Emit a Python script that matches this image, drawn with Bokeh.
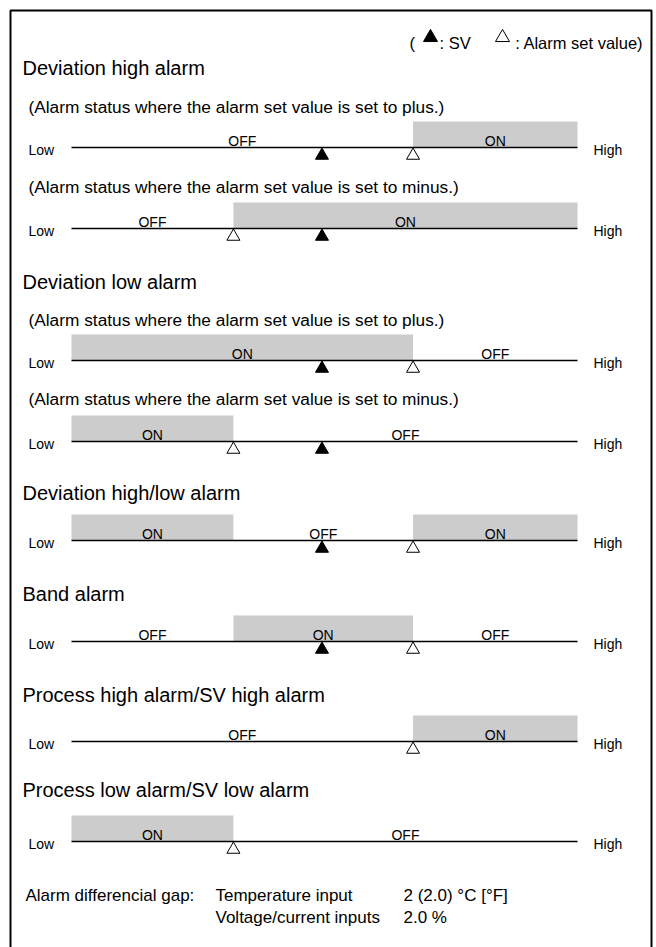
from bokeh.plotting import figure
from bokeh.models import Range1d
from bokeh.core.properties import value
from bokeh.embed import file_html
from bokeh.resources import INLINE

# ---------------- data ----------------
LOW, HIGH = 0.0, 100.0          # ends of the measuring scale
SV = 49.5                       # set value (black triangle)
A_PLUS = 67.5                   # alarm set value, plus side
A_MINUS = 32.0                  # alarm set value, minus side

section_titles = ["Deviation high alarm", "Deviation low alarm",
                  "Deviation high/low alarm", "Band alarm",
                  "Process high alarm/SV high alarm",
                  "Process low alarm/SV low alarm"]
sub_plus = "(Alarm status where the alarm set value is set to plus.)"
sub_minus = "(Alarm status where the alarm set value is set to minus.)"
subtitles = [sub_plus, sub_minus, sub_plus, sub_minus]

bar_edges = [[LOW, A_PLUS, HIGH], [LOW, A_MINUS, HIGH],
             [LOW, A_PLUS, HIGH], [LOW, A_MINUS, HIGH],
             [LOW, A_MINUS, A_PLUS, HIGH], [LOW, A_MINUS, A_PLUS, HIGH],
             [LOW, A_PLUS, HIGH], [LOW, A_MINUS, HIGH]]
bar_states = [["OFF", "ON"], ["OFF", "ON"], ["ON", "OFF"], ["ON", "OFF"],
              ["ON", "OFF", "ON"], ["OFF", "ON", "OFF"],
              ["OFF", "ON"], ["ON", "OFF"]]
sv_shown = [True, True, True, True, True, True, False, False]
alarm_marks = [A_PLUS, A_MINUS, A_PLUS, A_MINUS, A_PLUS, A_PLUS, A_PLUS, A_MINUS]

legend_parts = ["(", ": SV", ": Alarm set value)"]
gap_label = "Alarm differencial gap:"
gap_inputs = ["Temperature input", "Voltage/current inputs"]
gap_values = ["2 (2.0) \u00b0C [\u00b0F]", "2.0 %"]

# ---------------- layout ----------------
W, H = 656, 947
LINE_X0, LINE_X1 = 71, 577
k = (LINE_X1 - LINE_X0) / (HIGH - LOW)
title_y = [67, 281, 492, 593, 694, 789]
sub_y = [106, 186, 319, 398]
line_y = [147, 228, 360, 441, 540, 641, 741, 841]
BAR_H = 26
FONT = value("Liberation Sans")

p = figure(width=W, height=H, x_range=Range1d(0, W), y_range=Range1d(H, 0),
           output_backend="svg", toolbar_location=None, min_border=0,
           background_fill_color="white", border_fill_color="white")
p.axis.visible = False
p.grid.visible = False
p.outline_line_color = None
p.extra_x_ranges = {"val": Range1d(LOW + (0 - LINE_X0) / k, LOW + (W - LINE_X0) / k)}

# frame
p.line(x=[10, 10, 651, 651], y=[H, 10, 10, H], line_color="black", line_width=2)

# legend
LEG_Y = 42
p.text(x=[409, 439], y=[LEG_Y, LEG_Y], text=legend_parts[:2], text_align="left",
       text_baseline="alphabetic", text_font=FONT, text_font_size="16.5px", text_color="black")
p.text(x=[643], y=[LEG_Y], text=legend_parts[2:], text_align="right",
       text_baseline="alphabetic", text_font=FONT, text_font_size="16.5px", text_color="black")
p.scatter(x=[430], y=[LEG_Y - 5], marker="triangle", size=14,
          fill_color="black", line_color="black")
p.scatter(x=[502], y=[LEG_Y - 5], marker="triangle", size=14,
          fill_color="white", line_color="black", line_width=1)

# titles
p.text(x=[22] * len(title_y), y=title_y, text=section_titles, text_baseline="alphabetic",
       text_font=FONT, text_font_size="20px", text_color="black")
p.text(x=[28] * len(sub_y), y=sub_y, text=subtitles, text_baseline="alphabetic",
       text_font=FONT, text_font_size="17.3px", text_color="black")

# bars
qx0, qx1, qy, lx, ly, lt = [], [], [], [], [], []
for edges, states, yl in zip(bar_edges, bar_states, line_y):
    for a, b, s in zip(edges[:-1], edges[1:], states):
        if s == "ON":
            qx0.append(a); qx1.append(b); qy.append(yl)
        lx.append((a + b) / 2); ly.append(yl - 7); lt.append(s)
p.quad(left=qx0, right=qx1, top=[y - BAR_H for y in qy], bottom=qy, x_range_name="val",
       fill_color="#cccccc", line_color=None)
p.segment(x0=[LOW] * len(line_y), x1=[HIGH] * len(line_y), y0=line_y, y1=line_y,
          x_range_name="val", line_color="black", line_width=1.4)
p.text(x=lx, y=ly, text=lt, x_range_name="val", text_align="center", text_baseline="alphabetic",
       text_font=FONT, text_font_size="14px", text_color="black")

# Low / High
p.text(x=[28] * len(line_y), y=[y + 2 for y in line_y], text=["Low"] * len(line_y),
       text_baseline="alphabetic", text_font=FONT, text_font_size="14px", text_color="black")
p.text(x=[593] * len(line_y), y=[y + 2 for y in line_y], text=["High"] * len(line_y),
       text_baseline="alphabetic", text_font=FONT, text_font_size="14px", text_color="black")

# markers
svx = [SV for s in sv_shown if s]
svy = [y + 8 for s, y in zip(sv_shown, line_y) if s]
p.scatter(x=svx, y=svy, marker="triangle", size=13, x_range_name="val",
          fill_color="black", line_color="black", line_width=1)
p.scatter(x=alarm_marks, y=[y + 8 for y in line_y], marker="triangle", size=13, x_range_name="val",
          fill_color="white", line_color="black", line_width=1)

# differential gap note
p.text(x=[25], y=[895], text=[gap_label], text_baseline="alphabetic",
       text_font=FONT, text_font_size="17px", text_color="black")
p.text(x=[215, 215], y=[895, 917], text=gap_inputs, text_baseline="alphabetic",
       text_font=FONT, text_font_size="17px", text_color="black")
p.text(x=[403, 403], y=[895, 917], text=gap_values, text_baseline="alphabetic",
       text_font=FONT, text_font_size="17px", text_color="black")

open("out.html", "w").write(file_html(p, INLINE))
